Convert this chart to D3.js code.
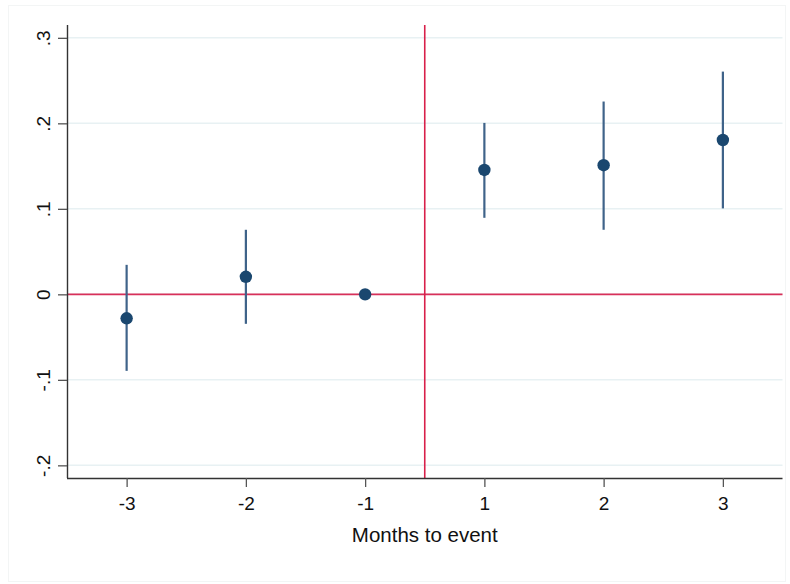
<!DOCTYPE html>
<html><head><meta charset="utf-8">
<script src="https://cdn.jsdelivr.net/npm/d3@7"></script>
<style>body{margin:0;background:#fff}svg{display:block}text{font-family:"Liberation Sans",Arial,sans-serif}</style>
</head><body>
<svg id="c" width="790" height="584"></svg>
<script>
const categories = ["-3","-2","-1","1","2","3"];
const estimates = [-0.028, 0.0205, 0, 0.1455, 0.151, 0.1805];
const ciLower = [-0.0895, -0.0345, 0, 0.0895, 0.0755, 0.1005];
const ciUpper = [0.0345, 0.0755, 0, 0.2005, 0.2255, 0.2605];
const yTicks = [-0.2, -0.1, 0, 0.1, 0.2, 0.3];
const yTickLabels = ["-.2","-.1","0",".1",".2",".3"];
const xTitle = "Months to event";

const svg = d3.select("#c");
const L = 67, R = 782.5, T = 25, B = 478;
const x = d3.scaleLinear().domain([0.5, 6.5]).range([L, R]);
const y = d3.scaleLinear().domain([-0.2148, 0.315]).range([B, T]);

// faint outer frame
svg.append("rect").attr("x",8.5).attr("y",5.5).attr("width",777).attr("height",576)
  .attr("fill","none").attr("stroke","#f3f5f5").attr("stroke-width",1);

// gridlines
svg.append("g").selectAll("line").data(yTicks).join("line")
  .attr("x1",L).attr("x2",R).attr("y1",d=>y(d)).attr("y2",d=>y(d))
  .attr("stroke","#e8f1f3").attr("stroke-width",1.5);

// reference lines
svg.append("line").attr("x1",L).attr("x2",R).attr("y1",y(0)).attr("y2",y(0))
  .attr("stroke","#d8305a").attr("stroke-width",1.8);
svg.append("line").attr("x1",x(3.5)).attr("x2",x(3.5)).attr("y1",T).attr("y2",B)
  .attr("stroke","#d8204a").attr("stroke-width",1.6);

// axes
const yAxis = d3.axisLeft(y).tickValues(yTicks).tickFormat((d,i)=>yTickLabels[i]).tickSize(9).tickPadding(5);
const gy = svg.append("g").attr("transform",`translate(${L},0)`).call(yAxis);
gy.select(".domain").attr("stroke","#333").attr("stroke-width",1.4).attr("d",`M0.5,${T}V${B}`);
gy.selectAll(".tick line").attr("stroke","#555").attr("stroke-width",1.3);
gy.selectAll(".tick text").attr("font-size",19).attr("fill","#111")
  .attr("text-anchor","middle").attr("transform","rotate(-90)")
  .attr("x",0).attr("dy",0).attr("y",-17);

const xAxis = d3.axisBottom(x).tickValues(d3.range(1,7)).tickFormat((d,i)=>categories[i]).tickSize(9).tickPadding(10);
const gx = svg.append("g").attr("transform",`translate(0,${B})`).call(xAxis);
gx.select(".domain").attr("stroke","#333").attr("stroke-width",1.4).attr("d",`M${L},0.5H${R}`);
gx.selectAll(".tick line").attr("stroke","#555").attr("stroke-width",1.3);
gx.selectAll(".tick text").attr("font-size",19).attr("fill","#111");

svg.append("text").attr("x",(L+R)/2).attr("y",541.5).attr("text-anchor","middle")
  .attr("font-size",20.5).attr("fill","#111").text(xTitle);

// CIs
const pts = categories.map((c,i)=>({i:i+1, e:estimates[i], lo:ciLower[i], hi:ciUpper[i]}));
svg.append("g").selectAll("line").data(pts.filter(d=>d.hi!==d.lo)).join("line")
  .attr("x1",d=>x(d.i)).attr("x2",d=>x(d.i)).attr("y1",d=>y(d.lo)).attr("y2",d=>y(d.hi))
  .attr("stroke","#3f6389").attr("stroke-width",2.2);
svg.append("g").selectAll("circle").data(pts).join("circle")
  .attr("cx",d=>x(d.i)).attr("cy",d=>y(d.e)).attr("r",6.2).attr("fill","#1a476f");
</script>
</body></html>
